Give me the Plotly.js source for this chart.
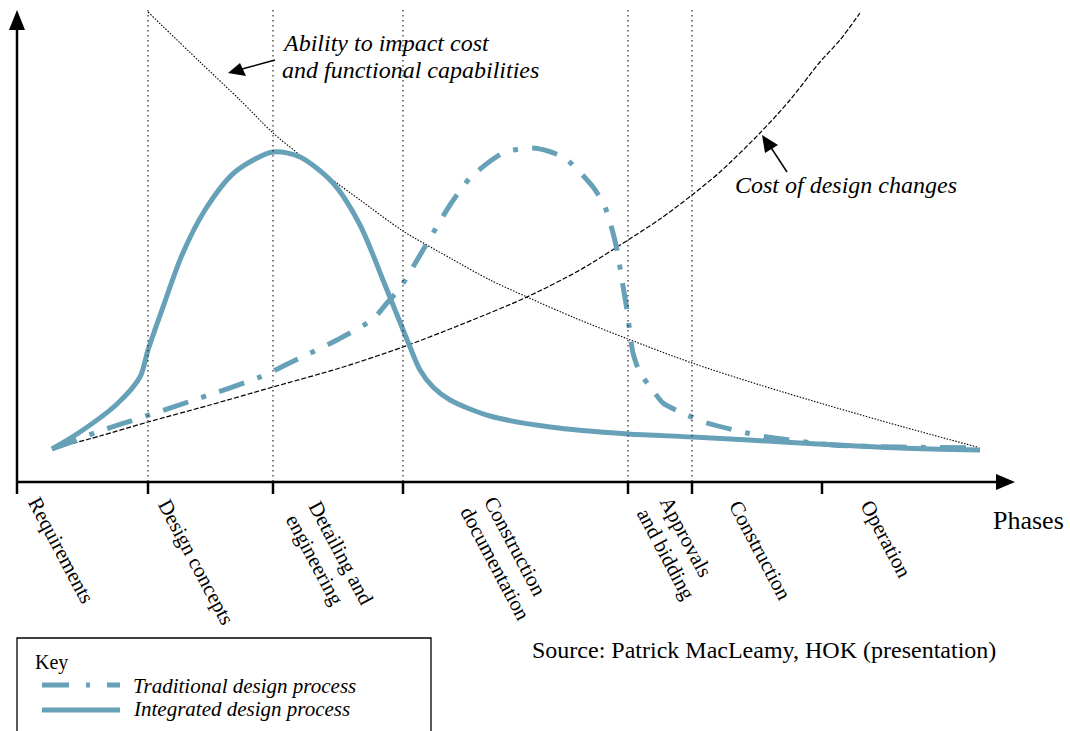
<!DOCTYPE html>
<html>
<head>
<meta charset="utf-8">
<script src="https://cdn.plot.ly/plotly-3.0.1.min.js"></script>
<style>html,body{margin:0;padding:0;background:#fff}#chart{width:1070px;height:731px}</style>
</head>
<body>
<div id="chart"></div>
<script>
// ---- data (positions on the phase axis / relative level) ----
const phaseBoundaries = [148, 273, 403, 628, 692];
const tickPositions = [148, 273, 403, 628, 692, 822];

const integratedX = [52, 80, 117, 140, 148, 163, 182, 205, 235, 273, 300, 333, 360, 385, 410, 420, 433, 450, 490, 550, 628, 693, 800, 900, 980];
const integratedY = [449, 432, 404, 377, 350, 307, 255, 210, 172, 152, 157, 183, 225, 285, 347, 370, 387, 400, 416, 427, 434, 437, 443, 448, 450];

const traditionalX = [52, 77, 97, 140, 200, 260, 300, 337, 373, 387, 400, 423, 433, 450, 470, 503, 533, 563, 593, 605, 613, 617, 622, 627, 630, 633, 640, 652, 663, 687, 707, 747, 767, 833, 900, 980];
const traditionalY = [449, 440, 432, 418, 398, 377, 358, 340, 319, 303, 288, 250, 233, 205, 178, 153, 148, 157, 187, 207, 233, 250, 280, 310, 333, 353, 373, 389, 403, 415, 423, 433, 437, 445, 447, 448];

const abilityX = [148, 200, 240, 273, 300, 330, 360, 403, 450, 490, 527, 575, 628, 692, 760, 830, 900, 977];
const abilityY = [12, 62, 100, 133, 155, 178, 200, 231, 258, 280, 297, 318, 339, 363, 385, 406, 426, 447];

const costX = [52, 100, 148, 210, 273, 340, 403, 465, 527, 580, 628, 660, 692, 720, 760, 790, 820, 840, 860];
const costY = [449, 436, 422, 405, 387, 368, 347, 323, 297, 270, 240, 219, 195, 172, 133, 100, 62, 40, 13];

// phase label lines: text, centre x, centre y
const labelText = ["Requirements", "Design concepts", "Detailing and", "engineering", "Construction", "documentation", "Approvals", "and bidding", "Construction", "Operation"];
const labelX = [61, 196, 341, 315, 515, 495, 686, 666, 760, 886];
const labelY = [550, 562, 553, 560, 546, 563, 537, 554, 550, 539];

const seriesNames = ["Traditional design process", "Integrated design process"];

// ---- drawing ----
const BLUE = '#67a1b8';
const SERIF = 'Liberation Serif, Times New Roman, serif';

const traces = [
  {x: abilityX, y: abilityY, mode: 'lines', line: {color: '#000', width: 1.1, dash: '1.5px,1.5px', shape: 'spline', smoothing: 0.8}, hoverinfo: 'skip'},
  {x: costX, y: costY, mode: 'lines', line: {color: '#000', width: 1.2, dash: '5px,2px', shape: 'spline', smoothing: 0.8}, hoverinfo: 'skip'},
  {x: traditionalX, y: traditionalY, mode: 'lines', name: seriesNames[0], line: {color: BLUE, width: 5, dash: '26px,14px,5px,14px', shape: 'spline', smoothing: 0.7}, hoverinfo: 'skip'},
  {x: integratedX, y: integratedY, mode: 'lines', name: seriesNames[1], line: {color: BLUE, width: 5, shape: 'spline', smoothing: 0.8}, hoverinfo: 'skip'},
  // key samples
  {x: [42, 120], y: [685, 685], mode: 'lines', line: {color: BLUE, width: 5, dash: '27px,17px,4px,17px'}, hoverinfo: 'skip'},
  {x: [42, 120], y: [710, 710], mode: 'lines', line: {color: BLUE, width: 5}, hoverinfo: 'skip'}
];

const shapes = [];
phaseBoundaries.forEach(function (b) {
  shapes.push({type: 'line', xref: 'x', yref: 'y', x0: b, x1: b, y0: 10, y1: 482, line: {color: '#222', width: 1.2, dash: '1.5px,3.5px'}});
});
tickPositions.forEach(function (t) {
  shapes.push({type: 'line', xref: 'x', yref: 'y', x0: t, x1: t, y0: 482, y1: 494, line: {color: '#000', width: 2.5}});
});
// axes with arrow heads
shapes.push({type: 'line', x0: 17, x1: 17, y0: 494, y1: 26, line: {color: '#000', width: 2.5}});
shapes.push({type: 'path', path: 'M 17 10 L 9 30 L 25 30 Z', fillcolor: '#000', line: {width: 0}});
shapes.push({type: 'line', x0: 16, x1: 999, y0: 482, y1: 482, line: {color: '#000', width: 2.5}});
shapes.push({type: 'path', path: 'M 1015 482 L 996 474 L 996 490 Z', fillcolor: '#000', line: {width: 0}});
// annotation arrows
shapes.push({type: 'line', x0: 275, y0: 60, x1: 242, y1: 69, line: {color: '#000', width: 1.5}});
shapes.push({type: 'path', path: 'M 228 73 L 240 63 L 246 76 Z', fillcolor: '#000', line: {width: 0}});
shapes.push({type: 'line', x0: 787, y0: 172, x1: 770, y1: 146, line: {color: '#000', width: 1.5}});
shapes.push({type: 'path', path: 'M 762 135 L 765 153 L 778 145 Z', fillcolor: '#000', line: {width: 0}});
// key box
shapes.push({type: 'rect', x0: 17, x1: 431, y0: 638, y1: 745, line: {color: '#000', width: 1.3}, fillcolor: 'rgba(0,0,0,0)'});

const annotations = [];
labelText.forEach(function (t, i) {
  annotations.push({x: labelX[i], y: labelY[i], text: t, showarrow: false, textangle: 62,
    xanchor: 'center', yanchor: 'middle', font: {family: SERIF, size: 21, color: '#000'}});
});
function txt(x, y, t, size, italic) {
  annotations.push({x: x, y: y, text: italic ? '<i>' + t + '</i>' : t, showarrow: false,
    xanchor: 'left', yanchor: 'middle', font: {family: SERIF, size: size, color: '#000'}});
}
txt(280, 43, 'Ability to impact cost', 24, true);
txt(280, 70, 'and functional capabilities', 24, true);
txt(733, 185, 'Cost of design changes', 24, true);
txt(991, 520, 'Phases', 26, false);
txt(530, 650, 'Source: Patrick MacLeamy, HOK (presentation)', 24, false);
txt(33, 662, 'Key', 20, false);
txt(131, 686, seriesNames[0], 21, true);
txt(131, 709, seriesNames[1], 21, true);

const layout = {
  width: 1070, height: 731,
  margin: {l: 0, r: 0, t: 0, b: 0},
  paper_bgcolor: '#fff', plot_bgcolor: '#fff',
  showlegend: false,
  xaxis: {range: [0, 1070], visible: false, fixedrange: true},
  yaxis: {range: [731, 0], visible: false, fixedrange: true},
  shapes: shapes,
  annotations: annotations
};

Plotly.newPlot('chart', traces, layout, {staticPlot: true, displayModeBar: false});
</script>
</body>
</html>
